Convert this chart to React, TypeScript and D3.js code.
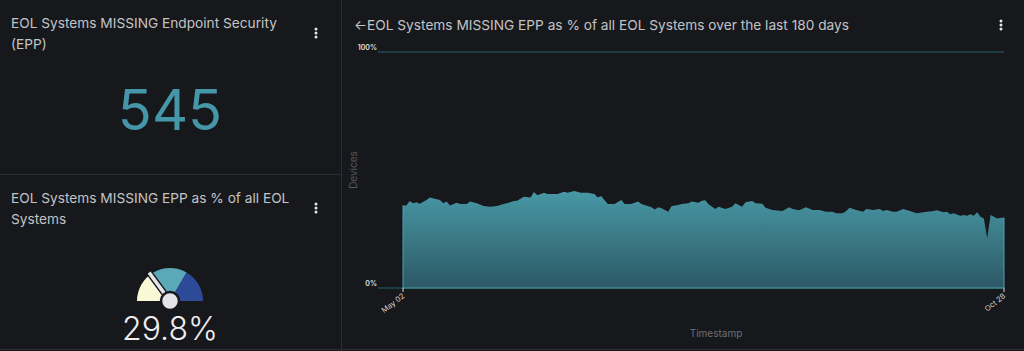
import React, {useEffect, useRef} from 'react';
import * as d3 from 'd3';

// 面板标题
const topTitle = ['EOL Systems MISSING Endpoint Security', '(EPP)'];
const gaugeTitle = ['EOL Systems MISSING EPP as % of all EOL', 'Systems'];
const chartTitle = '←EOL Systems MISSING EPP as % of all EOL Systems over the last 180 days';

// 单值
const missingCount = 545;
const missingPctNow = 29.8;

// 仪表盘分段 (%)
const gaugeBands = [33.3, 33.4, 33.3];
const gaugeColors = ['#fbf8d6', '#5aa8b8', '#2d4a99'];

// 面积图: 距 May 02 的天数, 缺失比例
const startDate = '2024-05-02';
const endDate = '2024-10-28';
const dayOffsets = [
  0, 1, 2, 3, 4, 5, 7, 8, 10, 11, 12, 13, 14, 16, 17, 19, 20, 22, 24, 26,
  28, 30, 31, 33, 34, 36, 38, 39, 40, 42, 43, 46, 48, 49, 51, 53, 55, 57, 58, 59,
  61, 63, 65, 66, 68, 70, 71, 74, 75, 76, 77, 79, 80, 82, 83, 85, 86, 88, 89, 90,
  91, 93, 94, 96, 98, 99, 101, 102, 104, 105, 107, 108, 110, 113, 115, 116, 118, 120, 122, 124,
  126, 128, 129, 131, 132, 133, 135, 137, 138, 140, 142, 143, 144, 146, 147, 149, 151, 153, 155, 158,
  159, 161, 162, 163, 164, 166, 167, 168, 169, 170, 171, 172, 173, 174, 175, 176, 177, 178, 179
];
const missingPct = [
  35.0, 35.0, 36.9, 35.9, 36.3, 35.7, 37.3, 38.3, 37.6, 37.3, 35.9, 36.7, 35.0, 36.1, 35.6, 35.6, 36.7, 35.9, 34.7, 34.4,
  34.7, 35.6, 35.9, 36.9, 37.0, 38.7, 38.3, 40.7, 39.3, 40.4, 39.8, 39.8, 40.8, 40.4, 41.1, 40.4, 40.4, 39.8, 38.3, 39.0,
  35.6, 35.6, 37.3, 35.6, 35.6, 36.6, 35.6, 34.2, 33.3, 34.2, 33.8, 32.3, 34.7, 35.2, 35.6, 35.9, 36.7, 36.1, 37.0, 37.2,
  35.5, 33.5, 34.4, 33.5, 34.4, 35.9, 34.4, 36.3, 36.9, 35.9, 35.7, 34.0, 33.1, 32.6, 34.2, 33.5, 32.9, 34.2, 33.1, 33.1,
  32.3, 32.3, 31.7, 31.7, 32.6, 34.0, 33.1, 32.3, 33.5, 33.1, 33.5, 32.6, 33.1, 32.3, 32.3, 33.5, 32.6, 31.7, 32.1, 32.6,
  32.9, 32.1, 32.3, 31.2, 31.7, 30.6, 30.9, 30.6, 31.2, 30.6, 32.1, 30.2, 29.5, 21.1, 30.9, 30.2, 29.5, 29.8, 29.8
];
const yTickValues = [0, 100];

const W = 1024;
const H = 351;
const BG = '#17181c';
const LINE = '#2c2d33';
const FONT = 'Inter, "Noto Sans", sans-serif';

function App() {
  const ref = useRef<SVGSVGElement>(null);

  useEffect(() => {
    document.body.style.margin = '0';
    document.body.style.background = BG;
    const svg = d3.select(ref.current);
    svg.selectAll('*').remove();

    svg.append('rect').attr('width', W).attr('height', H).attr('fill', BG);

    // 分隔线
    svg.append('line').attr('x1', 341.5).attr('x2', 341.5).attr('y1', 0).attr('y2', H)
      .attr('stroke', LINE);
    svg.append('line').attr('x1', 0).attr('x2', 341).attr('y1', 174.5).attr('y2', 174.5)
      .attr('stroke', LINE);
    svg.append('line').attr('x1', 0).attr('x2', W).attr('y1', 349.5).attr('y2', 349.5)
      .attr('stroke', LINE);

    const title = (lines: string[], x: number, y: number) => {
      const t = svg.append('text')
        .attr('x', x).attr('y', y)
        .attr('fill', '#c2c3c7')
        .style('font-family', FONT)
        .style('font-size', '13.7px');
      lines.forEach((l, i) => {
        t.append('tspan').attr('x', x).attr('dy', i === 0 ? 0 : 21).text(l);
      });
    };
    const kebab = (x: number, y: number) => {
      [-4, 0, 4].forEach(d => {
        svg.append('circle').attr('cx', x).attr('cy', y + d).attr('r', 1.5).attr('fill', '#e6e6e8');
      });
    };

    // 左上: 数值
    title(topTitle, 11, 28);
    kebab(316, 33);
    svg.append('text')
      .attr('x', 170).attr('y', 130)
      .attr('text-anchor', 'middle')
      .attr('fill', '#4596a8')
      .style('font-family', FONT)
      .style('font-size', '56px')
      .text(d3.format('d')(missingCount));

    // 左下: 仪表盘
    title(gaugeTitle, 11, 203);
    kebab(316, 208);
    const cx = 170;
    const cy = 301;
    const pie = d3.pie<number>().sort(null).value(d => d)
      .startAngle(-Math.PI / 2).endAngle(Math.PI / 2);
    const arc = d3.arc<d3.PieArcDatum<number>>().innerRadius(0).outerRadius(33);
    const g = svg.append('g').attr('transform', `translate(${cx},${cy})`);
    g.selectAll('path.band')
      .data(pie(gaugeBands))
      .enter()
      .append('path')
      .attr('class', 'band')
      .attr('d', arc)
      .attr('fill', (d, i) => gaugeColors[i]);
    const angle = d3.scaleLinear().domain([0, 100]).range([-90, 90]);
    g.append('g')
      .attr('transform', `rotate(${angle(missingPctNow)})`)
      .append('rect')
      .attr('x', -2.5).attr('y', -36).attr('width', 5).attr('height', 36)
      .attr('fill', '#e4e4e8')
      .attr('stroke', BG)
      .attr('stroke-width', 1.5);
    g.append('circle').attr('r', 9).attr('fill', '#e4e4e8')
      .attr('stroke', BG).attr('stroke-width', 2.5);
    svg.append('text')
      .attr('x', 170).attr('y', 340)
      .attr('text-anchor', 'middle')
      .attr('fill', '#eeeef0')
      .style('font-family', FONT)
      .style('font-weight', 300)
      .style('font-size', '32px')
      .text(`${missingPctNow}%`);

    // 右侧: 面积图
    title([chartTitle], 354, 30);
    kebab(1001, 25);

    const parse = d3.timeParse('%Y-%m-%d');
    const t0 = parse(startDate) as Date;
    const t1 = parse(endDate) as Date;
    const data = dayOffsets.map((d, i) => ({date: d3.timeDay.offset(t0, d), value: missingPct[i]}));

    const x = d3.scaleTime().domain([t0, t1]).range([403, 1004]);
    const y = d3.scaleLinear().domain([0, 100]).range([288, 52]);
    const gridX0 = 378;

    const defs = svg.append('defs');
    const grad = defs.append('linearGradient')
      .attr('id', 'areaGrad')
      .attr('x1', 0).attr('x2', 0).attr('y1', 0).attr('y2', 1);
    grad.append('stop').attr('offset', '0%').attr('stop-color', '#4898a6');
    grad.append('stop').attr('offset', '100%').attr('stop-color', '#2c5864');

    yTickValues.forEach(v => {
      svg.append('line')
        .attr('x1', gridX0).attr('x2', x(t1))
        .attr('y1', y(v)).attr('y2', y(v))
        .attr('stroke', '#24606a').attr('stroke-width', 1.2);
      svg.append('text')
        .attr('x', gridX0 - 1).attr('y', y(v) - 2)
        .attr('text-anchor', 'end')
        .attr('fill', '#e0e0e2')
        .style('font-family', FONT)
        .style('font-size', '7px')
        .style('font-weight', 600)
        .text(`${v}%`);
    });

    const area = d3.area<{date: Date, value: number}>()
      .x(d => x(d.date))
      .y0(y(0))
      .y1(d => y(d.value));
    svg.append('path')
      .datum(data)
      .attr('d', area)
      .attr('fill', 'url(#areaGrad)');
    // 左边和底边的亮线
    svg.append('path')
      .attr('d', `M${x(t0)},${y(missingPct[0])}V${y(0)}H${x(t1)}V${y(missingPct[missingPct.length - 1])}`)
      .attr('fill', 'none')
      .attr('stroke', '#4aa2b0')
      .attr('stroke-width', 1);

    // x 轴刻度
    const fmt = d3.timeFormat('%b %d');
    [t0, t1].forEach(d => {
      svg.append('line')
        .attr('x1', x(d)).attr('x2', x(d))
        .attr('y1', y(0)).attr('y2', y(0) + 4)
        .attr('stroke', '#d8d8da').attr('stroke-width', 1);
      svg.append('text')
        .attr('transform', `translate(${x(d) + 2},${y(0) + 9}) rotate(-38)`)
        .attr('text-anchor', 'end')
        .attr('fill', '#d0d0d3')
        .style('font-family', FONT)
        .style('font-size', '7.5px')
        .text(fmt(d));
    });

    svg.append('text')
      .attr('transform', `translate(357,170) rotate(-90)`)
      .attr('text-anchor', 'middle')
      .attr('fill', '#565961')
      .style('font-family', FONT)
      .style('font-size', '10px')
      .text('Devices');
    svg.append('text')
      .attr('x', 716).attr('y', 337)
      .attr('text-anchor', 'middle')
      .attr('fill', '#6d7078')
      .style('font-family', FONT)
      .style('font-size', '10px')
      .text('Timestamp');
  }, []);

  return (
    <div style={{position: 'absolute', left: 0, top: 0, width: W, height: H}}>
      <svg ref={ref} width={W} height={H}></svg>
    </div>
  );
}

export default App;
